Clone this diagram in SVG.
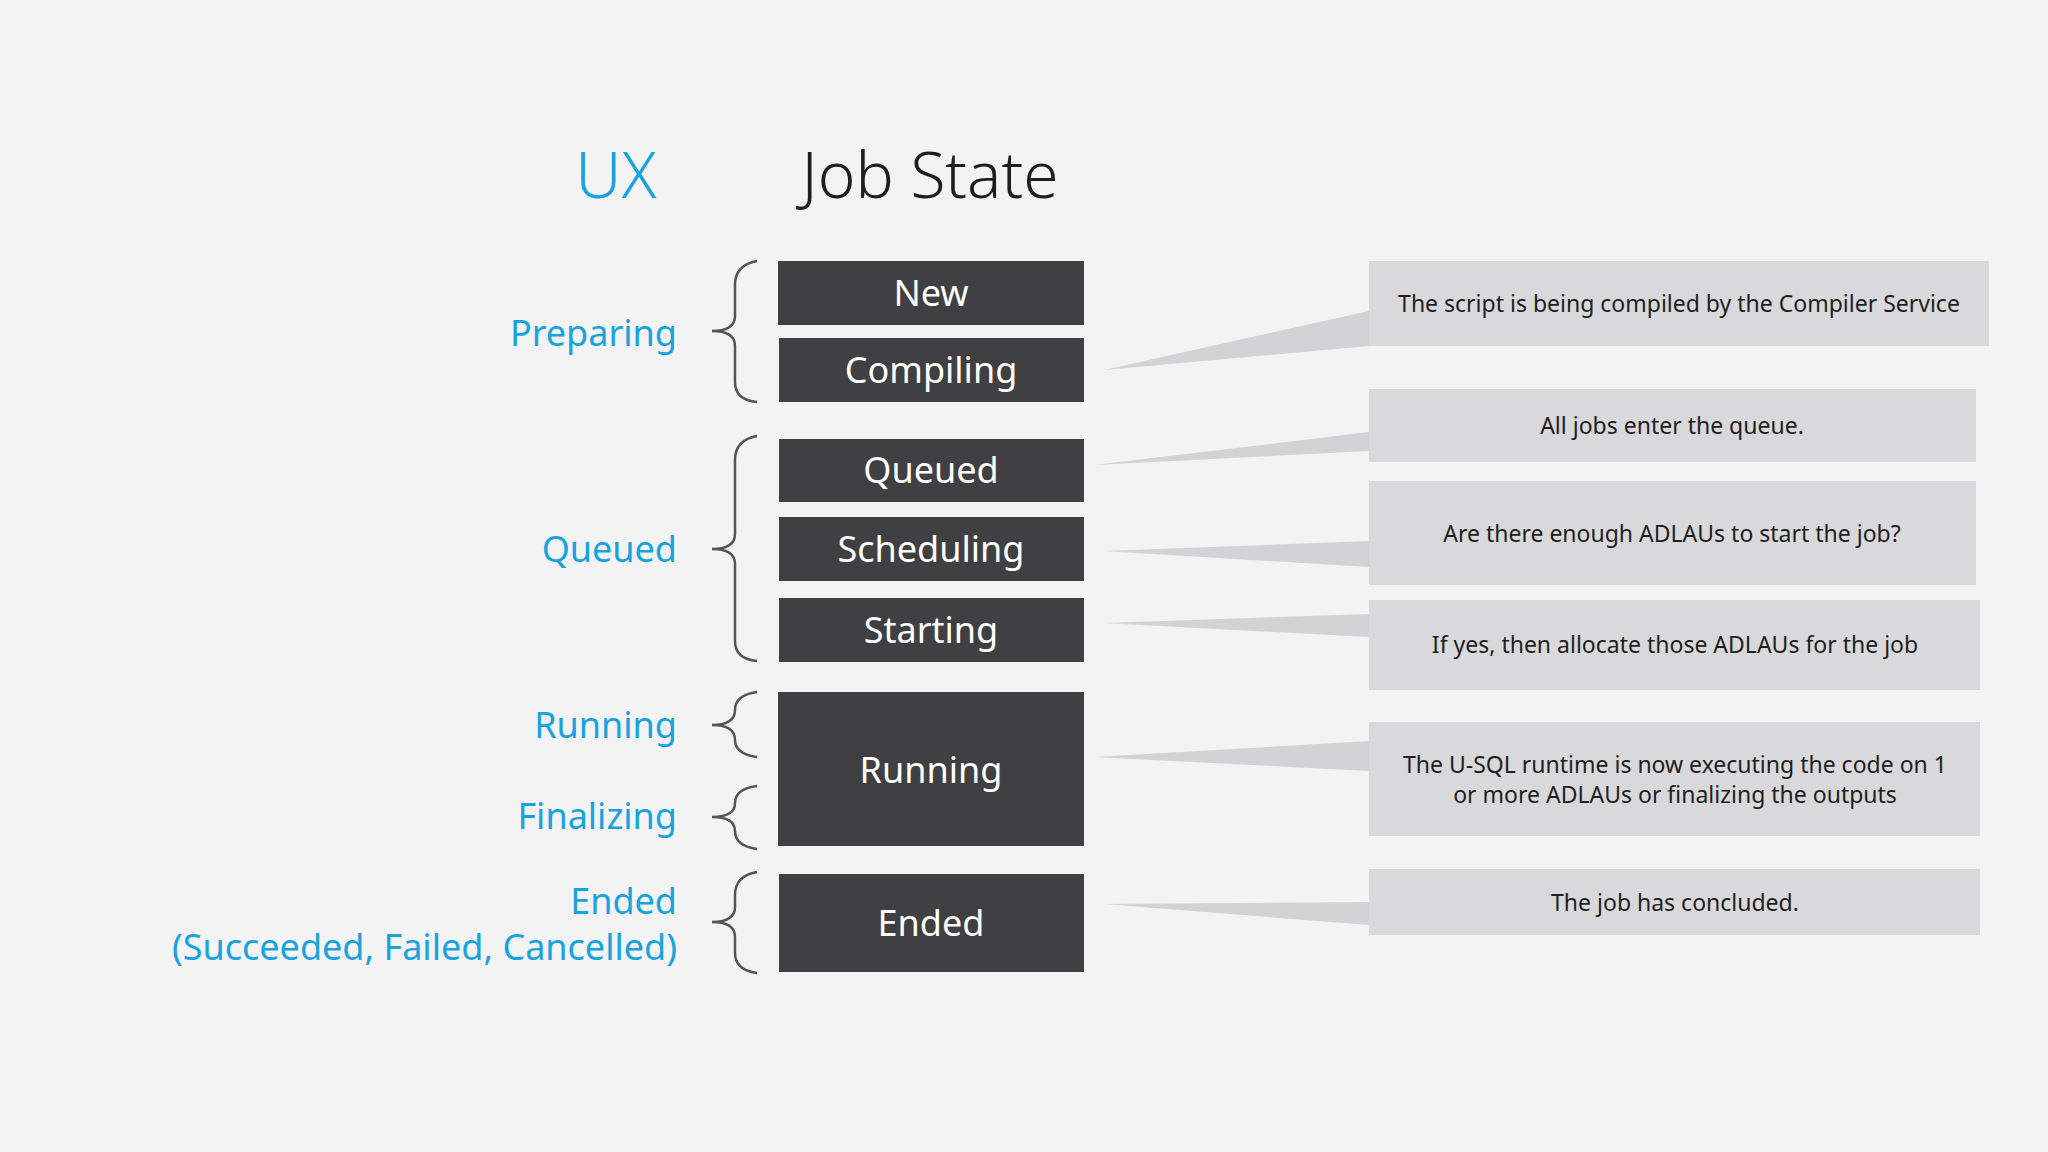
<svg xmlns="http://www.w3.org/2000/svg" width="2048" height="1152" viewBox="0 0 2048 1152">
<style>
.st{fill:#404042}
.st-t{fill:#fff;font-family:"Noto Sans","Open Sans",sans-serif;font-size:36px;text-anchor:middle}
.ds{fill:#d9d8da}
.ds-t{fill:#1e1e1e;font-family:"Noto Sans","Open Sans",sans-serif;font-size:23px;text-anchor:middle}
.ux{fill:#18a3df;font-family:"Noto Sans","Open Sans",sans-serif;font-size:36px;text-anchor:end}
.br{fill:none;stroke:#555;stroke-width:2.5}
.wg{fill:#d3d2d4}
</style>
<rect width="2048" height="1152" fill="#f3f3f4"/>
<text x="616" y="198" fill="#18a3df" font-family="Noto Sans,Open Sans,sans-serif" font-size="64" text-anchor="middle" font-weight="300">UX</text>
<text x="930" y="198" fill="#1e1e1e" font-family="Noto Sans,Open Sans,sans-serif" font-size="64" text-anchor="middle" font-weight="300">Job State</text>
<g id="connectors">
<polygon class="wg" points="1104,370 1369,311 1369,346"/>
<polygon class="wg" points="1094,465 1369,432 1369,451"/>
<polygon class="wg" points="1104,551 1369,541 1369,567"/>
<polygon class="wg" points="1104,623 1369,614 1369,637"/>
<polygon class="wg" points="1094,757 1369,741 1369,771"/>
<polygon class="wg" points="1104,904 1369,902 1369,925"/>
</g>
<g id="ux-labels">
<text class="ux" x="677" y="346">Preparing</text>
<text class="ux" x="677" y="562">Queued</text>
<text class="ux" x="677" y="738">Running</text>
<text class="ux" x="677" y="829">Finalizing</text>
<text class="ux" x="677" y="914">Ended</text>
<text class="ux" x="677" y="960">(Succeeded, Failed, Cancelled)</text>
</g>
<g id="braces">
<path class="br" d="M757,261 Q735,265 735,285 L735,316 Q735,331 712,331 Q735,331 735,346 L735,382 Q735,400 757,402"/>
<path class="br" d="M757,436 Q735,440 735,460 L735,534 Q735,549 712,549 Q735,549 735,564 L735,641 Q735,659 757,661"/>
<path class="br" d="M757,692 Q735,695 735,710 Q735,725 712,725 Q735,725 735,740 Q735,754 757,757"/>
<path class="br" d="M757,786 Q735,789 735,803 Q735,817 712,817 Q735,817 735,831 Q735,846 757,849"/>
<path class="br" d="M757,872 Q735,876 735,895 L735,907 Q735,922 712,922 Q735,922 735,937 L735,953 Q735,970 757,973"/>
</g>
<g id="state-new"><rect class="st" x="778" y="261" width="306" height="64"/><text class="st-t" x="931" y="306">New</text></g>
<g id="state-compiling"><rect class="st" x="779" y="338" width="305" height="64"/><text class="st-t" x="931" y="383">Compiling</text></g>
<g id="state-queued"><rect class="st" x="779" y="439" width="305" height="63"/><text class="st-t" x="931" y="483">Queued</text></g>
<g id="state-scheduling"><rect class="st" x="779" y="517" width="305" height="64"/><text class="st-t" x="931" y="562">Scheduling</text></g>
<g id="state-starting"><rect class="st" x="779" y="598" width="305" height="64"/><text class="st-t" x="931" y="643">Starting</text></g>
<g id="state-running"><rect class="st" x="778" y="692" width="306" height="154"/><text class="st-t" x="931" y="783">Running</text></g>
<g id="state-ended"><rect class="st" x="779" y="874" width="305" height="98"/><text class="st-t" x="931" y="936">Ended</text></g>
<g id="desc-1"><rect class="ds" x="1369" y="261" width="620" height="85"/><text class="ds-t" x="1679" y="312">The script is being compiled by the Compiler Service</text></g>
<g id="desc-2"><rect class="ds" x="1369" y="389" width="607" height="73"/><text class="ds-t" x="1672" y="434">All jobs enter the queue.</text></g>
<g id="desc-3"><rect class="ds" x="1369" y="481" width="607" height="104"/><text class="ds-t" x="1672" y="542">Are there enough ADLAUs to start the job?</text></g>
<g id="desc-4"><rect class="ds" x="1369" y="600" width="611" height="90"/><text class="ds-t" x="1675" y="653">If yes, then allocate those ADLAUs for the job</text></g>
<g id="desc-5"><rect class="ds" x="1369" y="722" width="611" height="114"/><text class="ds-t" x="1675" y="773">The U-SQL runtime is now executing the code on 1</text><text class="ds-t" x="1675" y="803">or more ADLAUs or finalizing the outputs</text></g>
<g id="desc-6"><rect class="ds" x="1369" y="869" width="611" height="66"/><text class="ds-t" x="1675" y="911">The job has concluded.</text></g>
</svg>
